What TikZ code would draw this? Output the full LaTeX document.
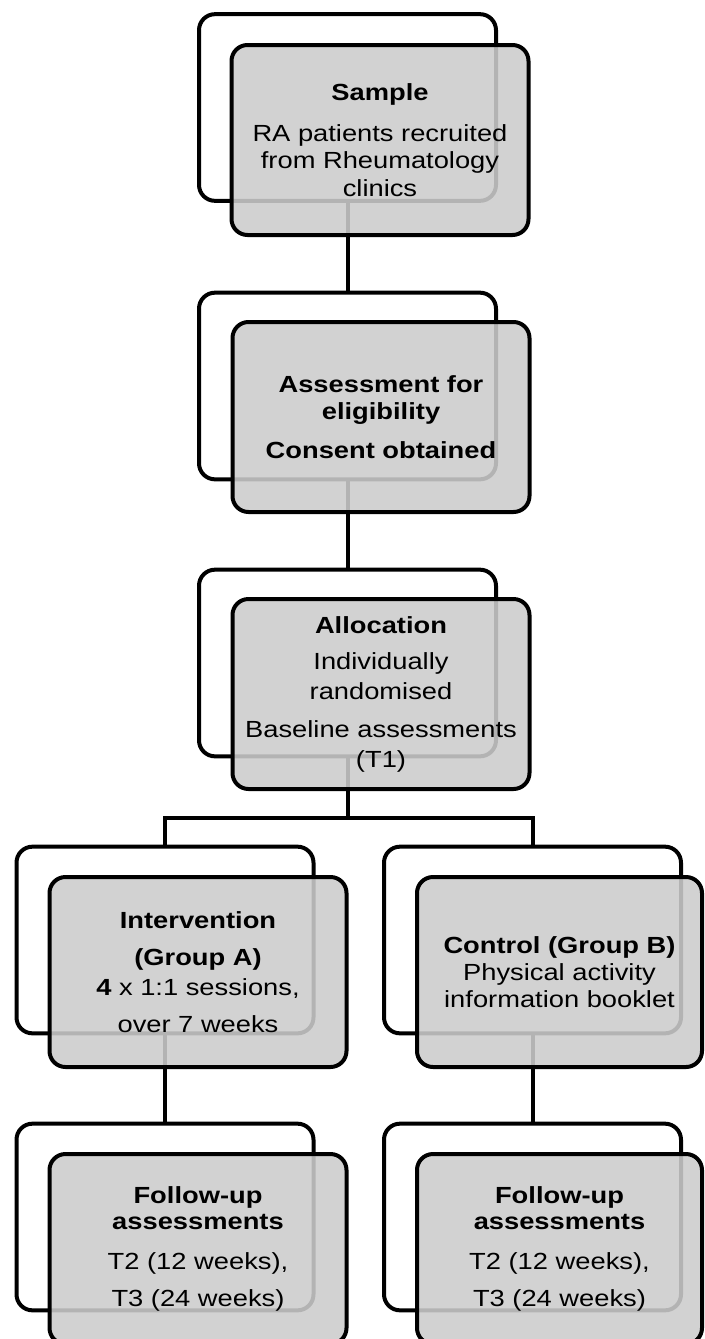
\documentclass[tikz,border=0pt]{standalone}
\usepackage{fontspec}
\setmainfont{Liberation Sans}[FakeStretch=1.17]
\usepackage{tikz}

\begin{document}
\begin{tikzpicture}[x=0.75pt,y=-0.75pt,font=\fontsize{17.5pt}{20.5pt}\selectfont,
  backbox/.style={draw=black,line width=3pt,fill=white,rounded corners=12pt,
    minimum width=222.75pt,minimum height=140pt,inner sep=0pt},
  frontbox/.style={draw=black,line width=3pt,fill=black!20,fill opacity=0.88,
    text opacity=1,rounded corners=12pt,minimum width=222.75pt,
    minimum height=142.5pt,inner sep=0pt,align=center},
  link/.style={line width=3pt}]
\useasboundingbox (0,0) rectangle (705,1339);
\node[backbox] (sampleback) at (347.5,107.5) {};
\node[backbox] (eligback) at (347.5,386) {};
\node[backbox] (allocback) at (347.5,663) {};
\node[backbox] (intback) at (165,940) {};
\node[backbox] (ctrlback) at (532.5,940) {};
\node[backbox] (fupaback) at (165,1217) {};
\node[backbox] (fupbback) at (532.5,1217) {};
\coordinate (split) at (347.5,818);
\draw[link] (sampleback.south) -- (eligback.north);
\draw[link] (eligback.south) -- (allocback.north);
\draw[link] (allocback.south) -- (split);
\draw[link] (intback.north) |- (split) -| (ctrlback.north);
\draw[link] (intback.south) -- (fupaback.north);
\draw[link] (ctrlback.south) -- (fupbback.north);
\node[frontbox] (sample) at (380,140) {\textbf{Sample}\\[10pt]RA patients recruited\\from Rheumatology\\clinics};
\node[frontbox] (elig) at (381,417) {\textbf{Assessment for}\\\textbf{eligibility}\\[9pt]\textbf{Consent obtained}};
\node[frontbox] (alloc) at (381,694) {\textbf{Allocation}\\[7pt]Individually\\[1.5pt]randomised\\[8pt]Baseline assessments\\[2pt](T1)};
\node[frontbox] (interv) at (198,972) {\textbf{Intervention}\\[7pt]\textbf{(Group A)}\\[2pt]\textbf{4} x 1:1 sessions,\\[7.5pt]over 7 weeks};
\node[frontbox,minimum width=213.75pt] (ctrl) at (559.5,972) {\textbf{Control (Group B)}\\Physical activity\\information booklet};
\node[frontbox] (fupa) at (198,1249) {\textbf{Follow-up}\\[-1.5pt]\textbf{assessments}\\[10pt]T2 (12 weeks),\\[7pt]T3 (24 weeks)};
\node[frontbox,minimum width=213.75pt] (fupb) at (559.5,1249) {\textbf{Follow-up}\\[-1.5pt]\textbf{assessments}\\[10pt]T2 (12 weeks),\\[7pt]T3 (24 weeks)};
\end{tikzpicture}
\end{document}
